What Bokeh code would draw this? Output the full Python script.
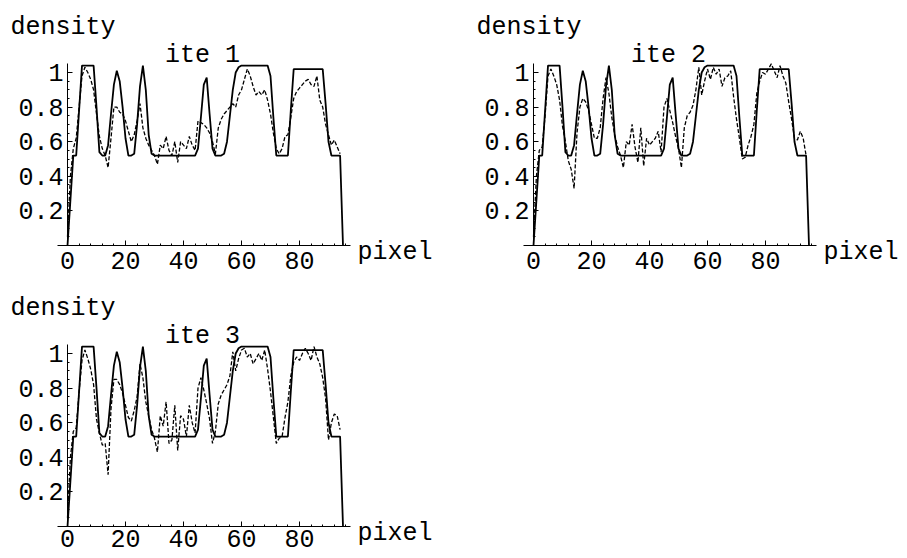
from bokeh.plotting import figure
from bokeh.models import Range1d, FixedTicker, Label, CustomJSTickFormatter
from bokeh.layouts import column, row
from bokeh.embed import file_html
from bokeh.resources import INLINE

# pixel index along the profile
pixel = list(range(96))

# true density profile (solid line)
true_density = [
    0.00, 0.26, 0.52, 0.52, 0.78, 1.04, 1.04, 1.04, 1.04, 1.04,
    0.80, 0.54, 0.52, 0.52, 0.58, 0.76, 0.93, 1.01, 0.95, 0.80,
    0.62, 0.52, 0.52, 0.53, 0.70, 0.92, 1.04, 0.90, 0.64, 0.53,
    0.52, 0.52, 0.52, 0.52, 0.52, 0.52, 0.52, 0.52, 0.52, 0.52,
    0.52, 0.52, 0.52, 0.52, 0.52, 0.56, 0.74, 0.93, 0.97, 0.76,
    0.56, 0.52, 0.52, 0.52, 0.53, 0.60, 0.75, 0.90, 1.00, 1.03,
    1.04, 1.04, 1.04, 1.04, 1.04, 1.04, 1.04, 1.04, 1.04, 1.04,
    0.98, 0.74, 0.52, 0.52, 0.52, 0.52, 0.52, 0.78, 1.02, 1.02,
    1.02, 1.02, 1.02, 1.02, 1.02, 1.02, 1.02, 1.02, 1.02, 0.82,
    0.60, 0.52, 0.52, 0.52, 0.52, 0.00,
]

# reconstructed density after each iteration (dashed line)
ite1 = [
    0.05, 0.40, 0.56, 0.62, 0.80, 0.98, 1.03, 1.00, 0.96, 0.90,
    0.76, 0.63, 0.56, 0.52, 0.45, 0.62, 0.80, 0.80, 0.77, 0.76,
    0.72, 0.66, 0.60, 0.64, 0.72, 0.82, 0.68, 0.62, 0.58, 0.55,
    0.52, 0.47, 0.58, 0.56, 0.63, 0.55, 0.52, 0.60, 0.48, 0.60,
    0.58, 0.56, 0.63, 0.58, 0.55, 0.72, 0.71, 0.70, 0.68, 0.65,
    0.60, 0.53, 0.68, 0.73, 0.76, 0.78, 0.80, 0.82, 0.80, 0.87,
    0.90, 0.96, 1.02, 0.98, 0.92, 0.87, 0.89, 0.87, 0.90, 0.84,
    0.76, 0.65, 0.56, 0.53, 0.56, 0.63, 0.64, 0.74, 0.85, 0.89,
    0.91, 0.93, 0.95, 0.96, 0.93, 0.92, 0.98, 0.84, 0.80, 0.70,
    0.64, 0.58, 0.61, 0.57, 0.53,
]

ite2 = [
    0.05, 0.40, 0.55, 0.57, 0.75, 0.98, 1.02, 0.98, 0.93, 0.84,
    0.69, 0.60, 0.49, 0.44, 0.33, 0.65, 0.80, 0.85, 0.83, 0.78,
    0.70, 0.62, 0.62, 0.68, 0.85, 0.97, 0.88, 0.74, 0.64, 0.57,
    0.52, 0.45, 0.60, 0.58, 0.70, 0.57, 0.48, 0.68, 0.46, 0.62,
    0.58, 0.60, 0.62, 0.66, 0.54, 0.80, 0.85, 0.78, 0.71, 0.63,
    0.56, 0.45, 0.68, 0.75, 0.77, 0.81, 0.90, 1.03, 0.87, 0.95,
    1.02, 0.96, 1.03, 0.99, 1.02, 0.92, 0.97, 0.98, 1.01, 0.86,
    0.73, 0.62, 0.50, 0.51, 0.58, 0.63, 0.70, 0.88, 0.95, 1.00,
    0.99, 1.02, 1.05, 1.01, 0.97, 1.04, 0.98, 0.94, 0.83, 0.73,
    0.62, 0.61, 0.66, 0.62, 0.52,
]

ite3 = [
    0.05, 0.40, 0.55, 0.57, 0.78, 0.96, 1.02, 0.97, 0.91, 0.82,
    0.62, 0.54, 0.47, 0.48, 0.30, 0.68, 0.85, 0.85, 0.82, 0.77,
    0.70, 0.63, 0.61, 0.67, 0.75, 0.94, 0.86, 0.72, 0.64, 0.56,
    0.51, 0.43, 0.64, 0.58, 0.72, 0.48, 0.50, 0.70, 0.44, 0.64,
    0.62, 0.52, 0.70, 0.60, 0.54, 0.80, 0.86, 0.79, 0.71, 0.62,
    0.48, 0.55, 0.71, 0.76, 0.79, 0.82, 0.87, 1.01, 0.90, 0.97,
    1.02, 1.03, 0.98, 1.00, 0.94, 0.97, 1.00, 0.96, 1.02, 0.91,
    0.78, 0.63, 0.48, 0.51, 0.52, 0.63, 0.72, 0.87, 0.95, 0.98,
    0.96, 1.00, 1.03, 1.00, 0.96, 1.04, 0.98, 0.94, 0.86, 0.74,
    0.50, 0.60, 0.65, 0.64, 0.56,
]

x_ticks = [0, 20, 40, 60, 80]
x_minor = list(range(0, 98, 4))
y_ticks = [0.2, 0.4, 0.6, 0.8, 1.0]
y_minor = [i * 0.05 for i in range(1, 21)]

FONT = "Liberation Mono"
FSIZE = "25px"

# canvas geometry shared by the panels (pixels)
ORIGIN_X = 67      # where x = 0 sits, from the left edge
ORIGIN_Y = 245     # where y = 0 sits, from the top edge
PX_PER_X = 2.9
PX_PER_Y = 173.0


def panel(name, estimate, width, height, standoff):
    # the frame fills the whole canvas; axes are pinned at the origin
    x_range = Range1d(-ORIGIN_X / PX_PER_X, (width - ORIGIN_X) / PX_PER_X)
    y_range = Range1d(-(height - ORIGIN_Y) / PX_PER_Y, ORIGIN_Y / PX_PER_Y)
    p = figure(width=width, height=height, x_range=x_range, y_range=y_range,
               min_border=0, output_backend="svg", toolbar_location=None)
    p.grid.visible = False
    p.outline_line_color = None

    p.line(pixel, true_density, line_color="black", line_width=1.8)
    p.line(pixel[:len(estimate)], estimate, line_color="black",
           line_width=1.3, line_dash="4 2")

    xa = p.xaxis[0]
    xa.fixed_location = 0
    xa.bounds = (-3.4, 97.7)
    xa.ticker = FixedTicker(ticks=x_ticks, minor_ticks=x_minor)
    ya = p.yaxis[0]
    ya.fixed_location = 0
    ya.bounds = (0, 1.05)
    ya.ticker = FixedTicker(ticks=y_ticks, minor_ticks=y_minor)
    ya.formatter = CustomJSTickFormatter(
        code="return tick > 0.999 ? '1' : tick.toFixed(1);")
    for ax in (xa, ya):
        ax.axis_line_color = "black"
        ax.axis_line_width = 1
        ax.major_tick_in = 5
        ax.major_tick_out = 0
        ax.minor_tick_in = 2
        ax.minor_tick_out = 0
        ax.major_tick_line_color = "black"
        ax.minor_tick_line_color = "black"
        ax.major_label_text_font = FONT
        ax.major_label_text_font_size = FSIZE
        ax.major_label_text_color = "black"
    xa.major_label_standoff = standoff
    ya.major_label_standoff = 4

    common = dict(x_units="screen", y_units="screen", text_font=FONT,
                  text_font_size=FSIZE, text_color="black",
                  text_baseline="alphabetic")
    p.add_layout(Label(x=202, y=height - 55, text=name,
                       text_align="center", **common))
    p.add_layout(Label(x=10, y=height - 27, text="density",
                       text_align="left", **common))
    p.add_layout(Label(x=ORIGIN_X + 290, y=height - 252, text="pixel",
                       text_align="left", **common))
    return p


p1 = panel("ite 1", ite1, 466, 281, 6)
p2 = panel("ite 2", ite2, 441, 281, 6)
p3 = panel("ite 3", ite3, 466, 277, 3)

layout = column(row(p1, p2), p3)

open("out.html", "w").write(file_html(layout, INLINE))
